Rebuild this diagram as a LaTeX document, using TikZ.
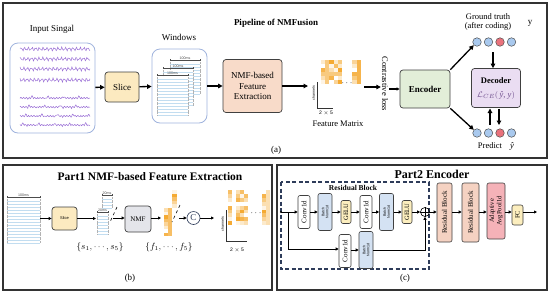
\documentclass[tikz,border=0pt]{standalone}
\usepackage{fontspec}
\setmainfont{Liberation Serif}
\setsansfont{Liberation Sans}
\usetikzlibrary{arrows.meta}
\definecolor{sigpurple}{HTML}{9A6FD6}
\definecolor{framebl}{HTML}{9FB3DD}
\definecolor{slicef}{HTML}{FCEAC0}
\definecolor{nmff}{HTML}{F8DBC9}
\definecolor{encf}{HTML}{E2EED8}
\definecolor{decf}{HTML}{EADDF2}
\definecolor{cblue}{HTML}{A9C9EE}
\definecolor{cred}{HTML}{E9727C}
\definecolor{forange}{HTML}{F4A62A}
\definecolor{bnf}{HTML}{D4E2F3}
\definecolor{geluf}{HTML}{FCEEBE}
\definecolor{resf}{HTML}{F5D2C2}
\definecolor{poolf}{HTML}{F5B2B8}
\definecolor{grayf}{HTML}{E4E5EA}
\definecolor{navy}{HTML}{2E3C5A}
\definecolor{linebl}{HTML}{C2DDF0}
\definecolor{lossp}{HTML}{6B4A8A}

% sheet: x y w h label
\newcommand{\mysheet}[5]{%
  \fill[white] (#1,#2) rectangle ++(#3,#4);
  \foreach \yy in {2,5,...,#4} \draw[linebl, line width=0.25pt] (#1,{#2+\yy}) -- ++(#3,0);
  \draw[black!30, densely dotted, line width=0.3pt] (#1,#2) -- ++(0,#4) (#1+#3,#2) -- ++(0,#4);
  \draw[{Bar[width=2pt]}-{Bar[width=2pt]}, line width=0.3pt, black!70] (#1,{#2-2}) -- ++(#3,0)
     node[midway, above, inner sep=0.4pt, font=\fontsize{3.6}{4}\sffamily] {#5};
}
% feature cells: x y ncols nrows cw ch seed
\newcommand{\fcells}[7]{%
  \foreach \i in {1,...,#3}{
    \foreach \j in {1,...,#4}{
      \pgfmathtruncatemacro\vv{min(100,mod(\i*37+\j*23+\i*\j*11+#7,9)*12)}
      \fill[forange!\vv!white] ({#1+(\i-1)*#5},{#2+(\j-1)*#6}) rectangle ++(#5,#6);
    }
  }
}

\begin{document}
\begin{tikzpicture}[x=1pt,y=-1pt,
 font=\fontsize{9}{10.5}\selectfont,
 arr/.style={-{Triangle[length=4.5pt,width=4.5pt]}, line width=1.3pt},
 sarr/.style={-{Triangle[length=3pt,width=3pt]}, line width=0.9pt},
 box/.style={draw=black!75, rounded corners=3pt, line width=0.7pt, align=center, inner sep=0pt},
 sbox/.style={draw=black!75, rounded corners=2pt, line width=0.6pt, align=center, inner sep=0pt},
 rbox/.style={sbox, rotate=90},
 frame/.style={draw=black!80, line width=1.1pt},
 dot/.style={circle, draw=black!70, line width=0.5pt, minimum size=8.5pt, inner sep=0pt},
]
\useasboundingbox (0,0) rectangle (550,293);
\fill[white] (0,0) rectangle (550,293);

% ---------------- frames
\draw[frame] (3,3) rectangle (547,158);
\draw[frame] (3,165) rectangle (272,290);
\draw[frame] (277,165) rectangle (547,290);

% ================= Panel (a)
\node[font=\bfseries\fontsize{9}{10.5}\selectfont] (titlea) at (276,23) {Pipeline of NMFusion};
\node (inlab) at (52,29) {Input Singal};
\node[draw=framebl, rounded corners=8pt, line width=0.8pt, minimum width=85pt, minimum height=90pt] (input) at (52.5,88) {};
\foreach \yy/\k in {49/1,59/2,69/3,80/4}
  \draw[sigpurple, line width=0.5pt] plot[domain=20:90, samples=90]
    (\x, {\yy + 1.3*sin(\x*97+\k*40) + 0.8*sin(\x*173+\k*23)});
\foreach \yy/\k in {98/1,107/2,116/3,125/4}
  \draw[sigpurple, line width=0.5pt] plot[domain=20:90, samples=100]
    (\x, {\yy + 0.7*sin(\x*131+\k*50) - 14*max(0,sin(\x*23+\k*70)-0.88) + 9*max(0,sin(\x*41+\k*15)-0.9)});

\node[box, fill=slicef, minimum width=34pt, minimum height=30pt] (slice) at (122,87) {Slice};

\node (winlab) at (179,37) {Windows};
\node[draw=framebl, rounded corners=8pt, line width=0.8pt, minimum width=55pt, minimum height=74pt] (win) at (179.5,86) {};
\mysheet{170}{62}{30}{32}{100ms}
\mysheet{163}{70}{30}{36}{100ms}
\mysheet{157}{77}{31}{38}{100ms}

\node[box, fill=nmff, minimum width=59pt, minimum height=53pt, font=\fontsize{9}{10.5}\selectfont] (nmf) at (252.5,86) {NMF-based\\Feature\\Extraction};

% feature matrix
\fcells{321}{60}{5}{6}{4.2}{4}{3}
\fcells{352}{60}{2}{6}{4.5}{4}{5}
\node (fdots) at (347,83) {$\cdots$};
\draw[black!80, line width=0.5pt] (317,82) -- (317,108) -- (333,108);
\node[rotate=90, font=\fontsize{3.6}{4}\sffamily] (chan) at (313.5,93) {channels};
\node[font=\fontsize{5}{6}\sffamily] (dim) at (326,113) {2 $\times$ 5};
\node[font=\fontsize{8.5}{10}\selectfont] (fmlab) at (338,124) {Feature Matrix};

\node[rotate=-90, font=\fontsize{8.5}{10}\selectfont, inner sep=1pt] (closs) at (385,84) {Contrastive loss};
\node[box, fill=encf, minimum width=50pt, minimum height=38pt, font=\bfseries\fontsize{9}{10.5}\selectfont] (enc) at (425,89) {Encoder};
\node[box, fill=decf, minimum width=49pt, minimum height=39pt] (dec) at (496,88) {};
\node[font=\bfseries\fontsize{8.5}{10}\selectfont, inner sep=1pt] (dect) at (496,81) {Decoder};
\node[text=lossp, font=\fontsize{8.5}{10}\selectfont, inner sep=1pt] (loss) at (496,95) {$\mathcal{L}_{CE}($\,\textit{ŷ}, \textit{y}$)$};

\node[font=\fontsize{8.5}{9.5}\selectfont, align=center] (gtlab) at (488,22) {Ground truth\\(after coding)};
\node[font=\fontsize{9}{10}\selectfont] (ylab) at (530,23) {y};
\node[dot, fill=cblue] (g1) at (477,42) {};
\node[dot, fill=cblue] (g2) at (488.5,42) {};
\node[dot, fill=cred]  (g3) at (500,42) {};
\node[dot, fill=cblue] (g4) at (511.5,42) {};
\node[dot, fill=cblue] (p1) at (477,133) {};
\node[dot, fill=cblue] (p2) at (488.5,133) {};
\node[dot, fill=cred]  (p3) at (500,133) {};
\node[dot, fill=cblue] (p4) at (511.5,133) {};
\node[font=\fontsize{8.5}{10}\selectfont] (predlab) at (490,146) {Predict};
\node[font=\fontsize{8.5}{10}\selectfont] (yhat) at (512,146) {\textit{ŷ}};
\node (labela) at (276,150) {(a)};

\coordinate (gtd) at (493,52);
\coordinate (fmin) at (308,86);
\coordinate (fmout) at (364,87);
\draw[arr] (input) -- (slice);
\draw[arr] (slice) -- (win);
\draw[arr] (win.east |- nmf) -- (nmf);
\draw[arr] (nmf.east) -- (fmin);
\draw[arr] (fmout) -- (closs.south |- fmout);
\draw[sarr, line width=1.1pt] (closs.north |- enc) -- (enc.west);
\draw[arr] (enc.north east) -- (g1.south west);
\draw[arr] (enc.south east) -- (p1.north west);
\draw[arr, line width=1.1pt] (gtd) -- (dec.north -| gtd);
\draw[arr, line width=1.1pt] (490,125) -- (490,108.5);
\draw[arr, line width=1.1pt] (499,108.5) -- (499,125);

% ================= Panel (b)
\node[font=\bfseries\fontsize{11.5}{13}\selectfont] (titleb) at (150,177) {Part1 NMF-based Feature Extraction};
\node[inner sep=0, minimum width=33pt, minimum height=44pt] (wb) at (23.5,220) {};
\mysheet{7}{199}{33}{44}{100ms}
\node[box, fill=slicef, minimum width=25pt, minimum height=23pt, font=\fontsize{4}{5}\sffamily] (sliceb) at (64.5,218.5) {Slice};
% slices s_i
\mysheet{102}{197}{10}{11}{20ms}
\mysheet{97}{214}{11}{20}{20ms}
\draw[dashed, line width=0.6pt] (117,207) -- (110,222);
\coordinate (sout) at (113,218);
\node[box, fill=grayf, minimum width=26pt, minimum height=26pt, font=\fontsize{7}{8}\selectfont] (nmfb) at (138,219) {NMF};
% f strips
\fcells{172}{190}{1}{5}{5}{3.5}{2}
\fcells{164}{208}{2}{8}{4}{3.5}{4}
\draw[dashed, line width=0.6pt] (180,205) -- (172,222);
\coordinate (fin) at (161,218);
\coordinate (fout) at (179,218);
\node[circle, draw=navy, line width=0.6pt, minimum size=13pt, inner sep=0, font=\fontsize{9}{10}\selectfont, text=navy] (cc) at (193.5,218) {C};
% feature matrix b
\fcells{228}{190}{5}{9}{3.9}{3.9}{7}
\fcells{262}{190}{2}{9}{4}{3.9}{1}
\node (bdots) at (256,213) {$\cdots$};
\coordinate (fmbin) at (214,218);
\draw[black!80, line width=0.5pt] (226,210) -- (226,241) -- (247,241);
\node[rotate=90, font=\fontsize{3.6}{4}\sffamily] (chanb) at (222.5,224) {channels};
\node[font=\fontsize{5}{6}\sffamily] (dimb) at (237,250) {2 $\times$ 5};
\node[font=\fontsize{9}{10}\selectfont] (sset) at (100,247) {$\{s_1,\cdots,s_5\}$};
\node[font=\fontsize{9}{10}\selectfont] (fset) at (169,247) {$\{f_1,\cdots,f_5\}$};
\node (labelb) at (130,278) {(b)};

\draw[sarr] (wb.east |- sliceb) -- (sliceb);
\draw[sarr] (sliceb) -- (96,218.5);
\draw[sarr] (sout) -- (nmfb.west |- sout);
\draw[sarr] (nmfb.east |- fin) -- (fin);
\draw[sarr] (fout) -- (cc);
\draw[sarr] (cc) -- (fmbin);

% ================= Panel (c)
\node[font=\bfseries\fontsize{12}{14}\selectfont] (titlec) at (432,174) {Part2 Encoder};
\draw[navy, line width=1.2pt, dash pattern=on 4pt off 2.5pt] (281,182) rectangle (429,269);
\node[font=\bfseries\fontsize{7.5}{9}\selectfont] (rblab) at (353,188) {Residual Block};

\tikzset{convt/.style={rbox, fill=white, minimum width=33pt, minimum height=12pt, font=\fontsize{7}{8}\selectfont},
         bnt/.style={rbox, fill=bnf, minimum width=37pt, minimum height=14pt, font=\fontsize{3.6}{4}\sffamily},
         gelut/.style={rbox, fill=geluf, minimum width=23pt, minimum height=10pt, font=\fontsize{6.5}{7.5}\selectfont}}
\node[convt] (c1) at (304,212) {Conv1d};
\node[bnt] (bn1) at (325,212) {Batch\\Norm1d};
\node[gelut] (ge1) at (346,212) {GELU};
\node[convt] (c2) at (366,212) {Conv1d};
\node[bnt] (bn2) at (386.5,212) {Batch\\Norm1d};
\node[gelut] (ge2) at (407,212) {GELU};
\node[circle, draw=black, line width=0.6pt, minimum size=9pt, inner sep=0] (plus) at (425,212) {};
\draw[line width=0.6pt] (plus.north) -- (plus.south) (plus.west) -- (plus.east);
\node[convt] (c3) at (345,251) {Conv1d};
\node[bnt] (bn3) at (366,250) {Batch\\Norm1d};

\node[rbox, fill=resf, minimum width=59pt, minimum height=15pt, font=\fontsize{7}{8}\selectfont] (rb1) at (444.5,212.5) {Residual Block};
\node[rbox, fill=resf, minimum width=59pt, minimum height=17pt, font=\fontsize{7}{8}\selectfont] (rb2) at (470.5,212.5) {Residual Block};
\node[rbox, fill=poolf, minimum width=56pt, minimum height=18pt, font=\fontsize{6.5}{7.5}\selectfont] (pool) at (496,211) {Adaptive\\AvgPool1d};
\node[rbox, fill=geluf, minimum width=20pt, minimum height=11pt, font=\fontsize{6.5}{7.5}\selectfont] (fc) at (517.5,215) {FC};
\node (labelc) at (405,278) {(c)};

\coordinate (rin) at (281,212);
\coordinate (br) at (288,212);
\coordinate (cout) at (537,212);
\fill (rin) circle (1.2pt);
\draw[sarr] (rin) -- (c1);
\draw[sarr] (c1) -- (bn1);
\draw[sarr] (bn1) -- (ge1);
\draw[sarr] (ge1) -- (c2);
\draw[sarr] (c2) -- (bn2);
\draw[sarr] (bn2) -- (ge2);
\draw[sarr] (ge2) -- (plus);
\draw[sarr] (br) |- (c3.north |- 0,249);
\draw[sarr] (c3.south |- 0,250) -- (bn3);
\draw[sarr] (bn3.south |- 0,250) -| (plus.south);
\draw[sarr] (plus) -- (rb1.north |- plus);
\draw[sarr] (rb1.south |- plus) -- (rb2.north |- plus);
\draw[sarr] (rb2.south |- plus) -- (pool.north |- plus);
\draw[sarr] (pool.south |- plus) -- (fc.north |- plus);
\draw[sarr] (fc.south |- plus) -- (cout);
\end{tikzpicture}
\end{document}
